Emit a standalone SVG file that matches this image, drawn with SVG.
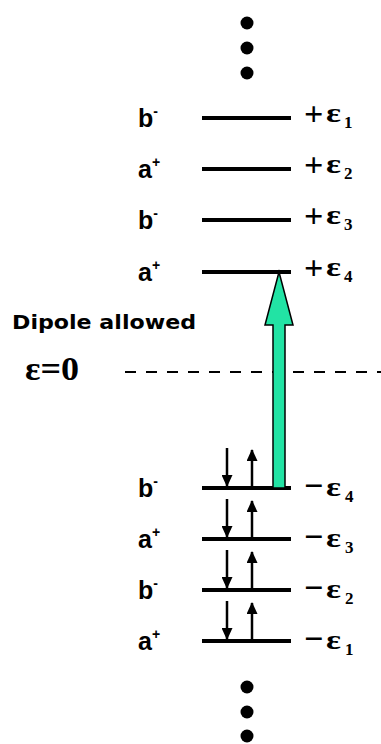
<svg xmlns="http://www.w3.org/2000/svg" width="381" height="744" viewBox="0 0 381 744">
<style>
.lvl{stroke:#000;stroke-width:4;fill:none}
.lab{font-family:"Liberation Sans",Arial,sans-serif;font-weight:bold;font-size:25px;fill:#000}
.sup{font-size:14px}
.sg{font-family:"Liberation Serif","Times New Roman",serif;font-size:34px;font-weight:bold;fill:#000}
.ep{font-family:"Liberation Serif","Times New Roman",serif;font-size:28px;font-weight:bold;fill:#000}
.sub{font-family:"Liberation Serif","Times New Roman",serif;font-size:17px;font-weight:bold;fill:#000}
.el{stroke:#000;stroke-width:2.5;fill:none}
.dot{fill:#000}
</style>
<defs>
<marker id="ah" markerWidth="12" markerHeight="11" refX="11" refY="5.5" orient="auto" markerUnits="userSpaceOnUse" viewBox="0 0 12 11">
<path d="M0,0 L12,5.5 L0,11 Z" fill="#000"/>
</marker>
</defs>
<rect width="381" height="744" fill="#fff"/>
<g id="dots-top">
<circle class="dot" cx="247" cy="23" r="6.5"/>
<circle class="dot" cx="247" cy="48" r="6.5"/>
<circle class="dot" cx="247" cy="73" r="6.5"/>
</g>
<g id="up1"><line class="lvl" x1="202" y1="118" x2="291" y2="118"/>
<text class="lab" x="138" y="127">b<tspan class="sup" dy="-11">-</tspan></text>
<text class="sg" x="304" y="125">+</text><text class="ep" transform="translate(326,122) scale(1.25,1)">ε</text><text class="sub" x="344" y="128">1</text></g>
<g id="up2"><line class="lvl" x1="202" y1="169" x2="291" y2="169"/>
<text class="lab" x="138" y="178">a<tspan class="sup" dy="-11">+</tspan></text>
<text class="sg" x="304" y="176">+</text><text class="ep" transform="translate(326,173) scale(1.25,1)">ε</text><text class="sub" x="344" y="179">2</text></g>
<g id="up3"><line class="lvl" x1="202" y1="220" x2="291" y2="220"/>
<text class="lab" x="138" y="229">b<tspan class="sup" dy="-11">-</tspan></text>
<text class="sg" x="304" y="227">+</text><text class="ep" transform="translate(326,224) scale(1.25,1)">ε</text><text class="sub" x="344" y="230">3</text></g>
<g id="up4"><line class="lvl" x1="202" y1="272" x2="291" y2="272"/>
<text class="lab" x="138" y="281">a<tspan class="sup" dy="-11">+</tspan></text>
<text class="sg" x="304" y="279">+</text><text class="ep" transform="translate(326,276) scale(1.25,1)">ε</text><text class="sub" x="344" y="282">4</text></g>
<g id="dipole"><text x="12" y="329" font-family="'DejaVu Sans',sans-serif" font-weight="bold" font-size="20" textLength="184" lengthAdjust="spacingAndGlyphs">Dipole allowed</text></g>
<g id="zero"><text class="sg" x="25" y="380" font-size="29" textLength="54" lengthAdjust="spacingAndGlyphs">ε=0</text>
<line x1="125" y1="372" x2="381" y2="372" stroke="#000" stroke-width="2" stroke-dasharray="11 10"/></g>
<g id="lo4"><line class="lvl" x1="202" y1="488" x2="291" y2="488"/>
<text class="lab" x="138" y="497">b<tspan class="sup" dy="-11">-</tspan></text>
<text class="sg" x="304" y="497">−</text><text class="ep" transform="translate(326,496) scale(1.25,1)">ε</text><text class="sub" x="345" y="502">4</text></g>
<g id="lo3"><line class="lvl" x1="202" y1="539" x2="291" y2="539"/>
<text class="lab" x="138" y="548">a<tspan class="sup" dy="-11">+</tspan></text>
<text class="sg" x="304" y="548">−</text><text class="ep" transform="translate(326,547) scale(1.25,1)">ε</text><text class="sub" x="345" y="553">3</text></g>
<g id="lo2"><line class="lvl" x1="202" y1="590" x2="291" y2="590"/>
<text class="lab" x="138" y="599">b<tspan class="sup" dy="-11">-</tspan></text>
<text class="sg" x="304" y="599">−</text><text class="ep" transform="translate(326,598) scale(1.25,1)">ε</text><text class="sub" x="345" y="604">2</text></g>
<g id="lo1"><line class="lvl" x1="202" y1="641" x2="291" y2="641"/>
<text class="lab" x="138" y="650">a<tspan class="sup" dy="-11">+</tspan></text>
<text class="sg" x="304" y="650">−</text><text class="ep" transform="translate(326,649) scale(1.25,1)">ε</text><text class="sub" x="345" y="655">1</text></g>
<g id="connectors">
<line class="el" x1="227" y1="448" x2="227" y2="486" marker-end="url(#ah)"/>
<line class="el" x1="252" y1="488" x2="252" y2="450" marker-end="url(#ah)"/>
<line class="el" x1="227" y1="499" x2="227" y2="537" marker-end="url(#ah)"/>
<line class="el" x1="252" y1="539" x2="252" y2="501" marker-end="url(#ah)"/>
<line class="el" x1="227" y1="550" x2="227" y2="588" marker-end="url(#ah)"/>
<line class="el" x1="252" y1="590" x2="252" y2="552" marker-end="url(#ah)"/>
<line class="el" x1="227" y1="601" x2="227" y2="639" marker-end="url(#ah)"/>
<line class="el" x1="252" y1="641" x2="252" y2="603" marker-end="url(#ah)"/>
<path d="M273,488 L273,325 L265,325 L279,272 L293,325 L285,325 L285,488 Z" fill="#22E3A4" stroke="#000" stroke-width="1.5" stroke-linejoin="miter"/>
</g>
<g id="dots-bottom">
<circle class="dot" cx="247" cy="687" r="6.5"/>
<circle class="dot" cx="247" cy="712" r="6.5"/>
<circle class="dot" cx="247" cy="736" r="6.5"/>
</g>
</svg>
